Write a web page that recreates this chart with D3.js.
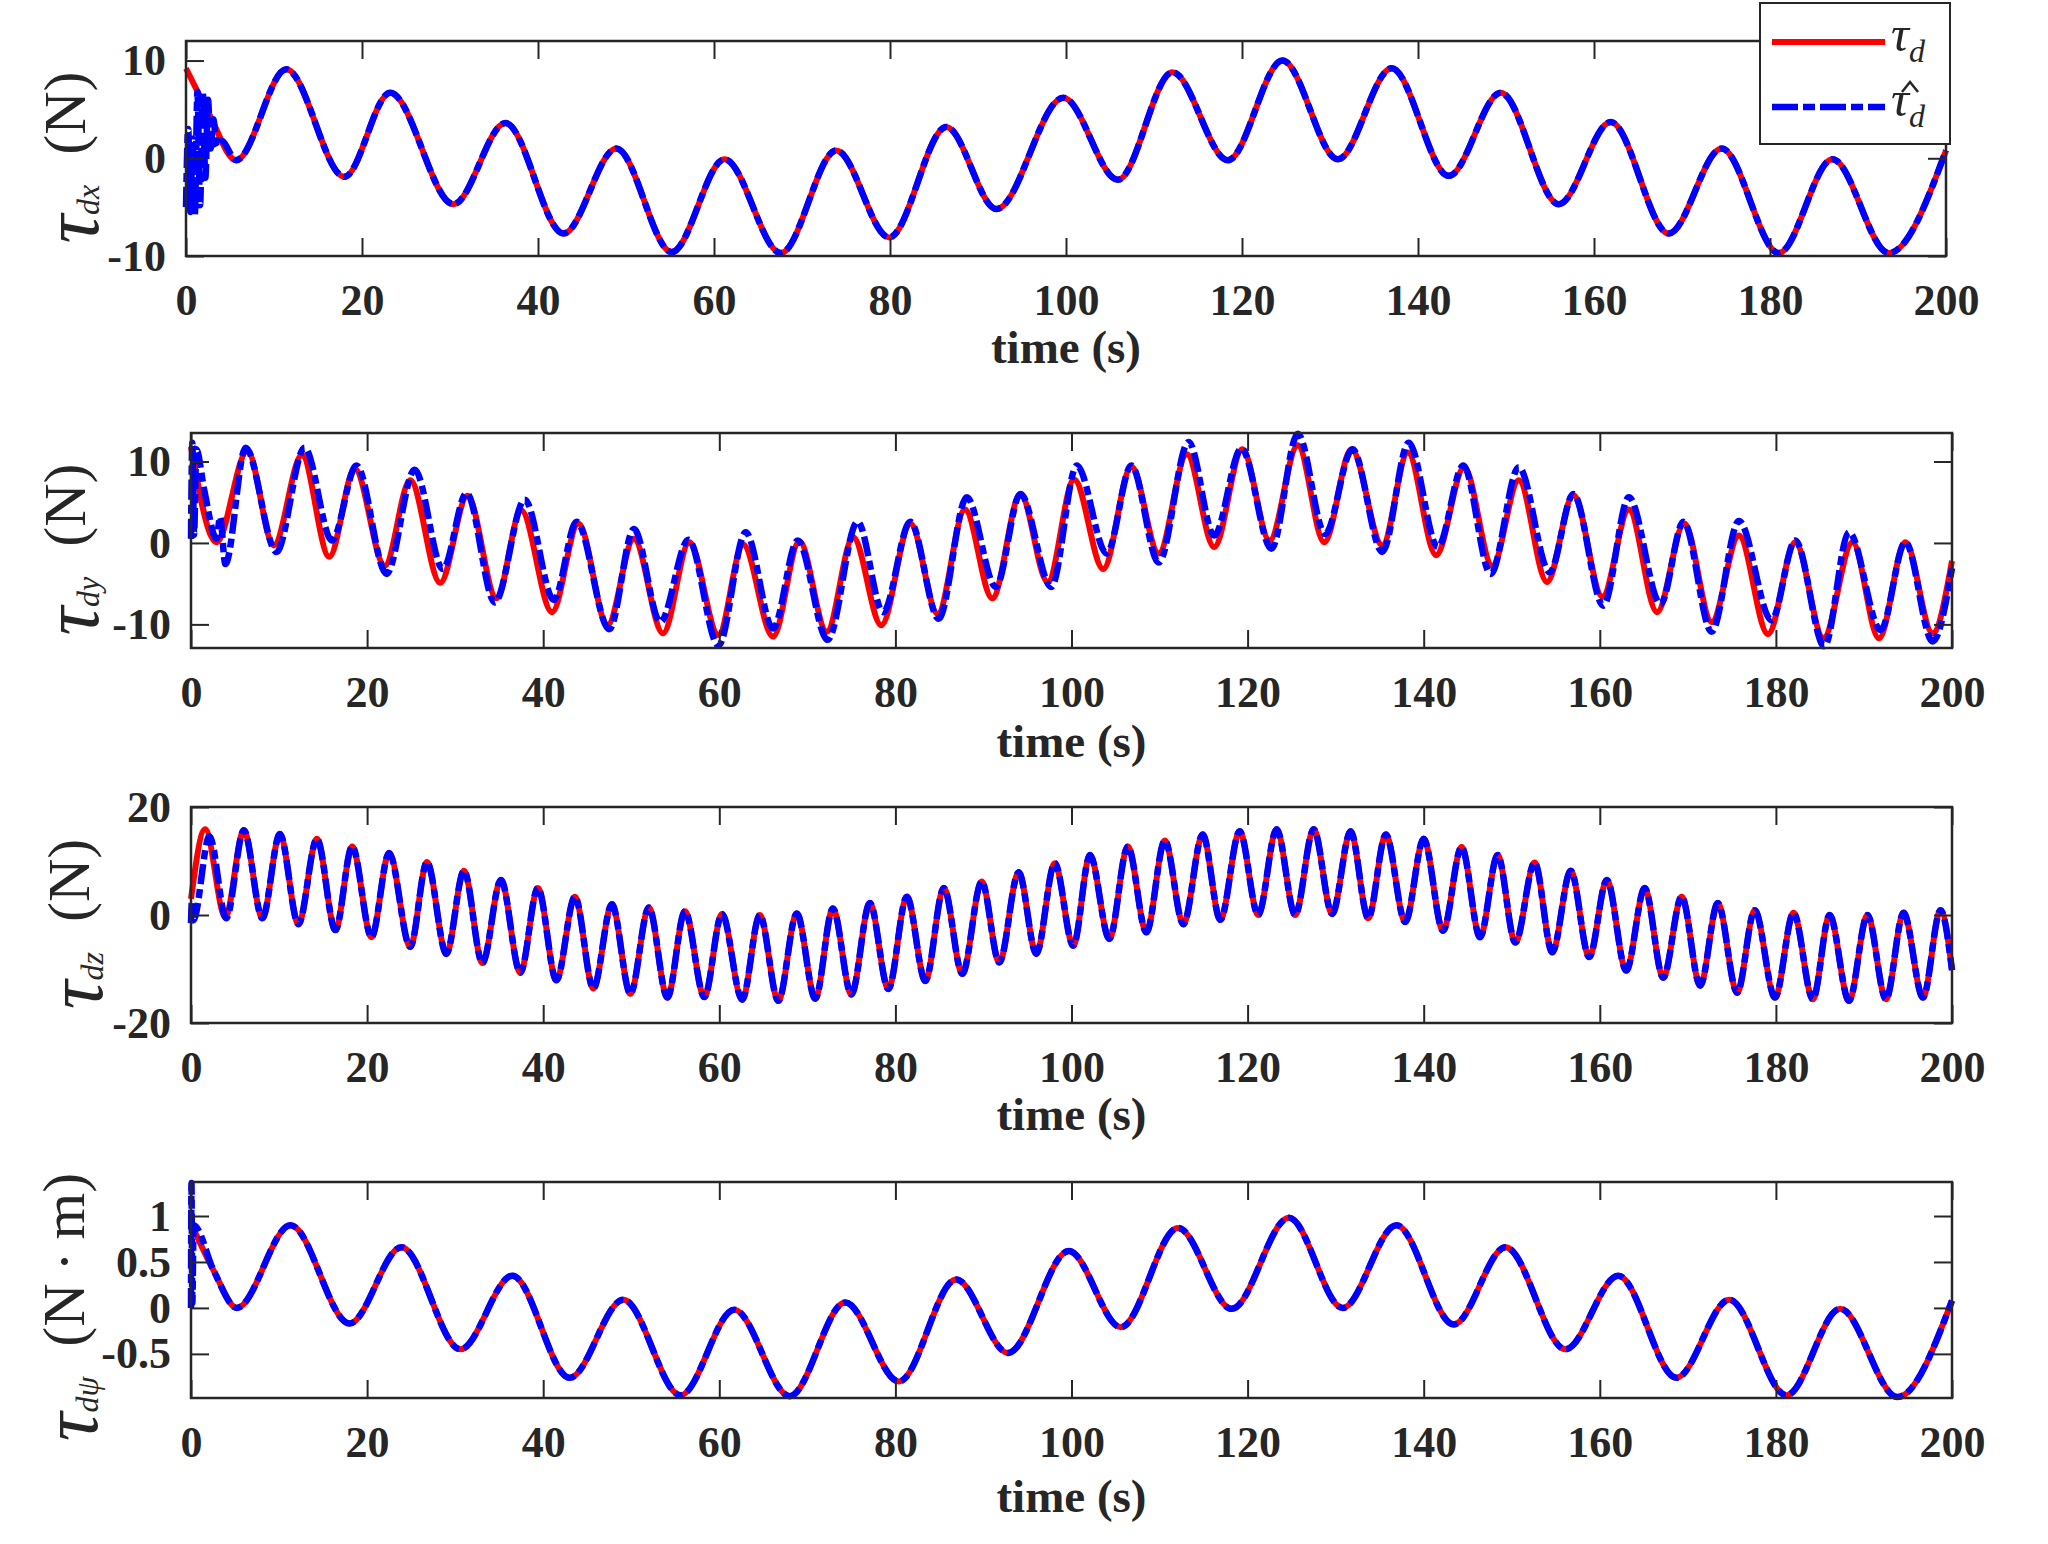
<!DOCTYPE html>
<html>
<head>
<meta charset="utf-8">
<style>
    body { margin: 0; background: #fff; }
    svg { display: block; }
    .tick text {
        font-family: 'Liberation Serif', 'Times New Roman', serif;
        font-weight: bold;
        font-size: 44px;
        fill: #262626;
    }
    .tick line { stroke: #262626; stroke-width: 2; }
    .domain { display: none; }
    .frame { fill: none; stroke: #262626; stroke-width: 2.5; }
    .xlabel {
        font-family: 'Liberation Serif', 'Times New Roman', serif;
        font-weight: bold;
        font-size: 47px;
        fill: #262626;
    }
    .ylabel, .legend-text {
        font-family: 'Liberation Serif', 'Times New Roman', serif;
        fill: #262626;
    }
</style>
</head>
<body>
<svg width="2048" height="1544"></svg>

<script src="https://d3js.org/d3.v7.min.js"></script>
<script>
    // peaks and troughs, [time (s), value]
    let tdxRed = [[0, 9.2], [2.6, 4.6], [5.7, -0.2], [11.4, 9.1], [18.0, -1.9], [23.2, 6.7], [30.4, -4.7], [36.3, 3.6],
        [42.9, -7.7], [48.9, 1.0], [55.2, -9.6], [61.2, -0.1], [67.6, -9.7], [73.9, 0.8], [79.9, -8.1],
        [86.4, 3.2], [92.1, -5.2], [99.7, 6.2], [105.9, -2.2], [112.1, 8.8], [118.4, -0.2], [124.6, 10.0],
        [130.9, -0.1], [137.0, 9.2], [143.5, -1.8], [149.4, 6.7], [156.0, -4.7], [161.9, 3.7], [168.5, -7.7],
        [174.5, 1.0], [181.0, -9.7], [187.1, -0.1], [193.5, -9.7], [200, 0.8]]
    let tdxBlueStart = [[0, -5], [0.25, 3], [0.5, -5.5], [0.75, 2], [1.0, -5.8], [1.3, 6.8], [1.6, -4.8],
        [1.9, 6.8], [2.2, -2], [2.5, 6], [2.8, 1], [3.1, 4], [3.5, 1.2], [4.0, 1.8]]

    let tdyRed = [[0, 11.8], [2.9, 0.1], [6.4, 11.3], [9.4, -0.3], [12.6, 10.8], [15.7, -1.7], [18.6, 9.1],
        [22.0, -2.8], [24.9, 7.7], [28.3, -4.9], [31.4, 5.8], [34.7, -6.8], [37.5, 4.0], [41.0, -8.5],
        [44.0, 2.4], [47.3, -10.1], [50.3, 0.5], [53.6, -11.1], [56.6, 0.1], [59.9, -11.3], [62.7, -0.2],
        [66.1, -11.5], [69.1, 0.2], [72.2, -10.9], [75.2, 0.7], [78.4, -10.1], [81.7, 2.4], [84.8, -8.7],
        [87.9, 4.1], [91.0, -6.8], [94.2, 6.0], [97.3, -4.8], [100.3, 7.8], [103.6, -3.2], [106.8, 9.4],
        [109.9, -1.3], [113.1, 10.9], [116.2, -0.5], [119.4, 11.5], [122.5, 0.3], [125.7, 12.0], [128.7, 0.1],
        [131.8, 11.5], [135.3, -0.3], [138.2, 11.1], [141.4, -1.5], [144.6, 9.3], [147.8, -2.8], [150.8, 7.7],
        [154.0, -4.8], [157.0, 5.9], [160.3, -6.6], [163.3, 4.1], [166.5, -8.5], [169.6, 2.4], [172.7, -9.7],
        [175.8, 0.9], [179.1, -11.2], [182.2, 0.1], [185.4, -11.7], [188.7, 0.1], [191.7, -11.7], [194.7, 0.1],
        [197.8, -11.1], [200, -2.2]]
    let tdyBlue = [[0, 0.5], [0.15, 12.3], [0.35, 1.0], [0.6, 11.5], [1.5, 6.5], [2.9, 0.5], [3.3, 3.2],
        [3.9, -2.6], [6.2, 11.7], [9.7, -1.1], [12.9, 11.7], [16.0, 0.3], [18.8, 9.5], [22.2, -3.8], [25.4, 9.0],
        [28.6, -3.2], [31.3, 6.1], [34.5, -7.3], [37.9, 5.3], [41.2, -7.0], [43.8, 2.6], [47.5, -10.6],
        [50.3, 1.7], [53.3, -9.7], [56.5, 0.4], [59.9, -12.6], [63.0, 1.3], [66.1, -10.5], [68.9, 0.3],
        [72.3, -11.9], [75.7, 2.6], [78.6, -8.5], [81.7, 2.6], [84.9, -9.3], [88.1, 5.6], [91.4, -5.4],
        [94.2, 6.0], [97.7, -5.4], [100.6, 9.5], [104.0, -1.3], [106.8, 9.5], [109.9, -2.4], [113.3, 12.4],
        [116.2, 0.9], [119.3, 11.6], [122.7, -0.7], [125.7, 13.4], [128.8, 1.1], [131.9, 11.5], [135.3, -1.1],
        [138.3, 12.3], [141.6, -0.5], [144.5, 9.5], [147.6, -3.8], [150.8, 9.3], [154.3, -3.6], [157.0, 6.0],
        [160.4, -7.7], [163.3, 5.6], [166.9, -7.5], [169.5, 2.6], [172.7, -10.9], [175.8, 2.7], [179.5, -9.5],
        [182.2, 0.3], [185.5, -12.7], [188.3, 1.3], [191.9, -10.7], [194.7, 0.1], [197.8, -12.1], [200, -3.1]]

    let tdzRed = [[0, 3], [1.6, 15.9], [3.9, -0.4], [6.0, 15.7], [8.1, -0.6], [10.1, 15.0], [12.2, -1.7],
        [14.3, 14.1], [16.4, -2.8], [18.3, 12.7], [20.5, -4.1], [22.5, 11.5], [24.9, -5.9], [26.8, 9.8],
        [29.0, -7.2], [31.0, 8.2], [33.1, -8.9], [35.2, 6.5], [37.4, -10.7], [39.4, 5.0], [41.5, -12.1],
        [43.6, 3.4], [45.7, -13.6], [47.8, 2.0], [49.9, -14.6], [52.0, 1.4], [54.1, -15.3], [56.1, 0.7],
        [58.3, -15.2], [60.3, 0.2], [62.6, -15.7], [64.6, 0], [66.7, -15.9], [68.8, 0.3], [70.9, -15.5],
        [72.9, 1.2], [75.0, -14.7], [77.1, 2.2], [79.2, -13.7], [81.3, 3.4], [83.4, -12.2], [85.5, 5.0],
        [87.6, -10.9], [89.8, 6.2], [91.8, -8.8], [94.0, 7.9], [96.0, -7.2], [98.1, 9.6], [100.2, -5.7],
        [102.1, 11.1], [104.3, -4.4], [106.4, 12.7], [108.5, -3.2], [110.6, 13.8], [112.7, -1.7], [114.9, 14.9],
        [116.9, -0.9], [119.1, 15.5], [121.2, 0], [123.3, 15.9], [125.4, 0], [127.5, 15.9], [129.6, 0.2],
        [131.7, 15.5], [133.7, -0.6], [135.7, 14.9], [137.9, -1.3], [140.0, 14.1], [142.2, -2.9], [144.3, 12.6],
        [146.4, -4.1], [148.4, 11.1], [150.4, -5.1], [152.6, 9.7], [154.6, -6.9], [156.7, 8.2], [158.8, -7.8],
        [160.8, 6.5], [163.0, -10.3], [165.1, 5.0], [167.2, -11.6], [169.3, 3.4], [171.4, -13.1], [173.4, 2.2],
        [175.6, -14.4], [177.6, 0.9], [179.9, -15.3], [182.0, 0.4], [184.2, -15.6], [186.1, 0], [188.3, -15.9],
        [190.4, 0], [192.5, -15.6], [194.5, 0.4], [196.7, -15.3], [198.7, 0.9], [200, -10.2]]
    let tdzBlueStart = [[0, -1.5], [0.1, 2.5], [0.25, -1.0], [2.1, 14.6], [4.0, -0.6]]

    let tdpsiRed = [[0, 0.92], [2.6, 0.4], [5.2, 0], [11.3, 0.9], [18.0, -0.17], [23.9, 0.66], [30.6, -0.45], [36.5, 0.35],
        [43.0, -0.76], [49.1, 0.09], [55.6, -0.95], [61.7, -0.02], [68.0, -0.96], [74.3, 0.06], [80.4, -0.8],
        [86.9, 0.31], [92.8, -0.49], [99.7, 0.62], [105.6, -0.21], [112.1, 0.87], [118.2, -0.01], [124.7, 0.98],
        [130.8, 0], [136.9, 0.9], [143.4, -0.18], [149.3, 0.66], [156.1, -0.45], [162.1, 0.35], [168.7, -0.76],
        [174.7, 0.09], [181.2, -0.95], [187.3, -0.01], [193.8, -0.97], [200, 0.08]]
    let tdpsiBlueStart = [[0, 0], [0.05, 1.36], [0.15, 0.05], [0.3, 0.9]]

    // after the start-up transient the estimate lies on the true value
    let tdxBlue = tdxBlueStart.concat(tdxRed.filter(d => d[0] >= 5))
    let tdzBlue = tdzBlueStart.concat(tdzRed.filter(d => d[0] >= 6))
    let tdpsiBlue = tdpsiBlueStart.concat(tdpsiRed.filter(d => d[0] >= 2))

    let xTicks = [0, 20, 40, 60, 80, 100, 120, 140, 160, 180, 200]
    let yTicksX = [-10, 0, 10]
    let yTicksY = [-10, 0, 10]
    let yTicksZ = [-20, 0, 20]
    let yTicksPsi = [-0.5, 0, 0.5, 1]

    let svg = d3.select("svg")

    let panels = [
        { red: tdxRed, blue: tdxBlue, ydom: [-10, 12], ticks: yTicksX, sub: "dx", unit: "(N)",
          left: 186, right: 1946, top: 41, bottom: 256, labelX: 98, labelShift: 9, xlabelY: 107 },
        { red: tdyRed, blue: tdyBlue, ydom: [-12.9, 13.5], ticks: yTicksY, sub: "dy", unit: "(N)",
          left: 191, right: 1952, top: 433, bottom: 648, labelX: 98, labelShift: 9, xlabelY: 109 },
        { red: tdzRed, blue: tdzBlue, ydom: [-20, 20], ticks: yTicksZ, sub: "dz", unit: "(N)",
          left: 191, right: 1952, top: 807, bottom: 1023, labelX: 102, labelShift: 9, xlabelY: 107 },
        { red: tdpsiRed, blue: tdpsiBlue, ydom: [-0.98, 1.37], ticks: yTicksPsi, sub: "d\u03C8", unit: "(N\u2009\u00B7\u2009m)",
          left: 191, right: 1952, top: 1182, bottom: 1398, labelX: 97, labelShift: 17, xlabelY: 114 }
    ]

    let dash = "20,5,9,5"

    panels.forEach(p => {
        let x = d3.scaleLinear().domain([0, 200]).range([p.left, p.right])
        let y = d3.scaleLinear().domain(p.ydom).range([p.bottom, p.top])
        let g = svg.append("g")

        let line = d3.line()
            .x(d => x(d[0]))
            .y(d => y(d[1]))
            .curve(d3.curveMonotoneX)

        g.append("path")
            .attr("d", line(p.red))
            .attr("fill", "none")
            .attr("stroke", "#ff0000")
            .attr("stroke-width", 6)

        g.append("path")
            .attr("d", line(p.blue))
            .attr("fill", "none")
            .attr("stroke", "#0000ff")
            .attr("stroke-width", 6.5)
            .attr("stroke-dasharray", dash)

        // box with inward ticks on all four sides
        g.append("g")
            .attr("transform", `translate(0,${p.bottom})`)
            .call(d3.axisBottom(x).tickValues(xTicks).tickSizeInner(-18).tickSizeOuter(0).tickPadding(28))
        g.append("g")
            .attr("transform", `translate(0,${p.top})`)
            .call(d3.axisTop(x).tickValues(xTicks).tickSizeInner(-18).tickSizeOuter(0).tickFormat(""))
        g.append("g")
            .attr("transform", `translate(${p.left},0)`)
            .call(d3.axisLeft(y).tickValues(p.ticks).tickSizeInner(-18).tickSizeOuter(0).tickPadding(20)
                .tickFormat(d => String(d)))
        g.append("g")
            .attr("transform", `translate(${p.right},0)`)
            .call(d3.axisRight(y).tickValues(p.ticks).tickSizeInner(-18).tickSizeOuter(0).tickFormat(""))

        g.append("rect")
            .attr("class", "frame")
            .attr("x", p.left)
            .attr("y", p.top)
            .attr("width", p.right - p.left)
            .attr("height", p.bottom - p.top)

        g.append("text")
            .attr("class", "xlabel")
            .attr("x", (p.left + p.right) / 2)
            .attr("y", p.bottom + p.xlabelY)
            .attr("text-anchor", "middle")
            .text("time (s)")

        let yl = g.append("text")
            .attr("class", "ylabel")
            .attr("text-anchor", "middle")
            .attr("transform", `translate(${p.labelX},${(p.top + p.bottom) / 2 + p.labelShift}) rotate(-90)`)
        yl.append("tspan").style("font-style", "italic").style("font-size", "80px").text("\u03C4")
        yl.append("tspan").style("font-style", "italic").style("font-size", "32px").attr("dy", 1).text(p.sub)
        yl.append("tspan").style("font-size", "60px").attr("dy", -14).text("\u2002" + p.unit)
    })

    // legend
    let lg = svg.append("g")
    lg.append("rect")
        .attr("x", 1760).attr("y", 3)
        .attr("width", 190).attr("height", 141)
        .attr("fill", "#fff")
        .attr("stroke", "#262626")
        .attr("stroke-width", 2)
    lg.append("line")
        .attr("x1", 1772).attr("x2", 1885).attr("y1", 42).attr("y2", 42)
        .attr("stroke", "#ff0000").attr("stroke-width", 6)
    lg.append("line")
        .attr("x1", 1772).attr("x2", 1885).attr("y1", 107).attr("y2", 107)
        .attr("stroke", "#0000ff").attr("stroke-width", 6.5)
        .attr("stroke-dasharray", "26,5,12,5")

    let t1 = lg.append("text").attr("class", "legend-text").attr("x", 1891).attr("y", 51)
    t1.append("tspan").style("font-style", "italic").style("font-size", "50px").text("\u03C4")
    t1.append("tspan").style("font-style", "italic").style("font-size", "32px").attr("dy", 11).text("d")

    let t2 = lg.append("text").attr("class", "legend-text").attr("x", 1891).attr("y", 116)
    t2.append("tspan").style("font-style", "italic").style("font-size", "50px").text("\u03C4")
    t2.append("tspan").style("font-style", "italic").style("font-size", "32px").attr("dy", 11).text("d")
    // hat accent over the second tau
    lg.append("path")
        .attr("d", "M1902,92 L1910,82 L1918,92")
        .attr("fill", "none")
        .attr("stroke", "#262626")
        .attr("stroke-width", 2.5)
</script>
</body>
</html>
